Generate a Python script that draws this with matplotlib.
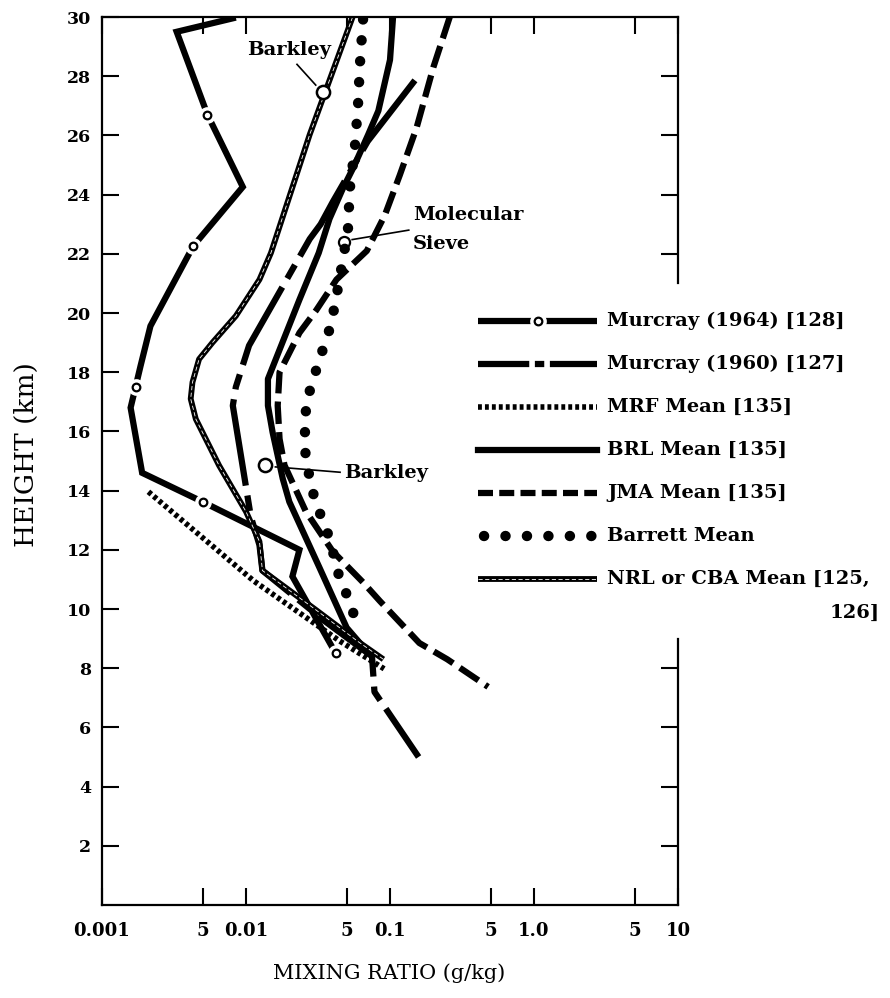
import numpy as np
import matplotlib.pyplot as plt

plt.rcParams['font.family'] = 'DejaVu Serif'

# --- data: mixing ratio (g/kg) against height (km) ---
murcray64_x = [0.0085, 0.0033, 0.0054, 0.0095, 0.0043, 0.00217, 0.00185, 0.00171,
               0.00158, 0.0019, 0.0050, 0.0235, 0.021, 0.042]
murcray64_y = [29.98, 29.5, 26.7, 24.26, 22.26, 19.56, 18.2, 17.5,
               16.8, 14.6, 13.62, 12.0, 11.1, 8.5]
murcray64_pt_x = [0.0054, 0.0043, 0.00171, 0.0050, 0.042]
murcray64_pt_y = [26.7, 22.26, 17.5, 13.62, 8.5]

murcray60_x = [0.149, 0.070, 0.040, 0.033, 0.0277, 0.0105, 0.0085, 0.0081,
               0.0108, 0.0124, 0.013, 0.035, 0.075, 0.078, 0.158]
murcray60_y = [27.86, 25.8, 23.75, 23.0, 22.5, 18.9, 17.5, 16.87,
               13.12, 12.16, 11.3, 9.6, 8.4, 7.2, 5.0]

mrf_x = [0.0021, 0.0113, 0.0447, 0.091]
mrf_y = [13.96, 10.95, 8.92, 7.98]

brl_x = [0.105, 0.100, 0.083, 0.0706, 0.0555, 0.047, 0.038, 0.032, 0.0235,
         0.0142, 0.0142, 0.0153, 0.018, 0.020, 0.0325, 0.050, 0.069]
brl_y = [30.0, 28.55, 26.83, 26.03, 24.9, 24.2, 23.18, 22.03, 20.45,
         17.77, 16.87, 15.97, 14.4, 13.62, 11.38, 9.37, 8.58]

jma_x = [0.26, 0.20, 0.153, 0.117, 0.092, 0.069, 0.0425, 0.0308, 0.0235, 0.019,
         0.0171, 0.0166, 0.0171, 0.0185, 0.026, 0.040, 0.065, 0.085, 0.16, 0.25, 0.48]
jma_y = [30.0, 28.3, 26.26, 24.66, 23.3, 22.1, 21.13, 20.1, 19.33, 18.44,
         18.0, 16.87, 15.75, 14.86, 13.3, 11.95, 10.9, 10.27, 8.85, 8.3, 7.37]

barrett_x = [0.065, 0.062, 0.060, 0.057, 0.0526, 0.051, 0.0437, 0.039, 0.0316,
             0.0262, 0.0255, 0.0262, 0.030, 0.038, 0.0447, 0.051, 0.058]
barrett_y = [29.92, 28.5, 27.06, 25.58, 24.2, 22.78, 20.9, 19.61, 18.27,
             16.98, 15.64, 14.97, 13.69, 12.4, 11.03, 10.4, 9.6]

nrl_x = [0.055, 0.0357, 0.0277, 0.0149, 0.0124, 0.0085, 0.00585, 0.00472, 0.00425,
         0.00413, 0.00448, 0.0065, 0.010, 0.0124, 0.013, 0.03, 0.06, 0.09]
nrl_y = [30.0, 27.5, 26.03, 22.03, 21.13, 19.9, 19.0, 18.44, 17.66,
         17.1, 16.42, 14.85, 13.29, 12.28, 11.3, 10.0, 8.9, 8.3]

barkley_x = [0.034, 0.0135]
barkley_y = [27.46, 14.85]
sieve_x = [0.048]
sieve_y = [22.4]

xticks = [0.001, 0.005, 0.01, 0.05, 0.1, 0.5, 1.0, 5, 10]
xticklabels = ['0.001', '5', '0.01', '5', '0.1', '5', '1.0', '5', '10']
yticks = list(range(2, 31, 2))
right_ticks = [2, 4, 6, 8, 22, 24, 26, 28]

legend_labels = ['Murcray (1964) [128]', 'Murcray (1960) [127]', 'MRF Mean [135]',
                 'BRL Mean [135]', 'JMA Mean [135]', 'Barrett Mean',
                 'NRL or CBA Mean [125,']

LW = 4.5
NOTE = 14
# axes box in pixels of the 890x998 picture
L, R, T, B = 102, 678, 17, 905
fig = plt.figure(figsize=(8.9, 9.98), dpi=100)
ax = fig.add_axes([L / 890, 1 - B / 998, (R - L) / 890, (B - T) / 998])
ax.set_xscale('log')
ax.set_xlim(0.001, 10)
ax.set_ylim(0, 30)


def murcray64_style(xs, ys, pxs, pys, tr=None):
    kw = {} if tr is None else {'transform': tr, 'clip_on': False}
    ax.plot(xs, ys, color='k', lw=LW, solid_capstyle='butt', solid_joinstyle='miter', **kw)
    ax.plot(pxs, pys, ls='none', marker='o', ms=11, mfc='white', mec='white', **kw)
    ax.plot(pxs, pys, ls='none', marker='o', ms=5.5, mfc='white', mec='k', mew=1.6, **kw)


def nrl_style(xs, ys, tr=None):
    kw = {} if tr is None else {'transform': tr, 'clip_on': False}
    ax.plot(xs, ys, color='k', lw=4.2, solid_capstyle='butt', **kw)
    ax.plot(xs, ys, color='white', lw=0.6, dashes=(5, 3), **kw)


# curves
murcray64_style(murcray64_x, murcray64_y, murcray64_pt_x, murcray64_pt_y)
ax.plot(murcray60_x, murcray60_y, color='k', lw=LW, dashes=(14, 1.6, 2.5, 1.6))
ax.plot(mrf_x, mrf_y, color='k', lw=4, dashes=(0.7, 0.55))
ax.plot(brl_x, brl_y, color='k', lw=LW)
ax.plot(jma_x, jma_y, color='k', lw=LW, dashes=(3.6, 1.3))
ax.plot(barrett_x, barrett_y, color='k', lw=7.5, dashes=(0.01, 2.0), dash_capstyle='round')
nrl_style(nrl_x, nrl_y)

# annotations
ax.plot(barkley_x, barkley_y, ls='none', marker='o', ms=9.5, mfc='white', mec='k', mew=1.8)
ax.plot(sieve_x, sieve_y, ls='none', marker='o', ms=8, mfc='none', mec='k', mew=1.6)
ax.text(0.0198, 28.9, 'Barkley', fontsize=NOTE, fontweight='bold', ha='center', va='center')
ax.plot([0.0226, 0.0305], [28.4, 27.7], color='k', lw=1.2)
ax.text(0.048, 14.6, 'Barkley', fontsize=NOTE, fontweight='bold', ha='left', va='center')
ax.plot([0.0160, 0.045], [14.8, 14.62], color='k', lw=1.2)
ax.text(0.144, 23.3, 'Molecular', fontsize=NOTE, fontweight='bold', ha='left', va='center')
ax.text(0.144, 22.33, 'Sieve', fontsize=NOTE, fontweight='bold', ha='left', va='center')
ax.plot([0.0546, 0.135], [22.48, 22.8], color='k', lw=1.2)

# axes frame and ticks; the right edge is broken where the key sits
for side in ['left', 'bottom', 'top']:
    ax.spines[side].set_linewidth(1.6)
ax.spines['right'].set_visible(False)
ytr = ax.get_yaxis_transform()
ax.plot([1, 1], [0, 9.0], color='k', lw=1.6, transform=ytr, clip_on=False)
ax.plot([1, 1], [21.0, 30], color='k', lw=1.6, transform=ytr, clip_on=False)

ax.set_xticks(xticks)
ax.set_xticklabels(xticklabels)
ax.xaxis.set_minor_locator(plt.NullLocator())
ax.set_yticks(yticks)
ax.tick_params(axis='x', direction='in', length=12, width=1.5, top=True, pad=12, labelsize=13)
ax.tick_params(axis='y', direction='in', length=12, width=1.5, right=False, pad=8, labelsize=12.5)
for lab in ax.get_xticklabels() + ax.get_yticklabels():
    lab.set_fontweight('bold')

ax2 = ax.twinx()
ax2.set_ylim(0, 30)
ax2.set_yticks(right_ticks)
ax2.tick_params(axis='y', direction='in', length=12, width=1.5, labelright=False)
for s in ax2.spines.values():
    s.set_visible(False)

fig.text(389 / 890, 1 - 973 / 998, 'MIXING RATIO (g/kg)', fontsize=15, ha='center', va='center')
fig.text(26 / 890, 1 - 455 / 998, 'HEIGHT (km)', fontsize=19, ha='center', va='center',
         rotation=90)

# key drawn by hand to the right of the curves (pixel rows of the picture)
atr = ax.transAxes
lx0, lx1 = (478 - L) / (R - L), (597 - L) / (R - L)
tx = (607 - L) / (R - L)
rows = [(B - (321 + 43 * i)) / (B - T) for i in range(len(legend_labels))]
murcray64_style([lx0, lx1], [rows[0]] * 2, [(lx0 + lx1) / 2], [rows[0]], tr=atr)
ax.plot([lx0, lx1], [rows[1]] * 2, color='k', lw=LW, dashes=(8.2, 0.9, 1.5, 0.9),
        transform=atr, clip_on=False)
ax.plot([lx0, lx1], [rows[2]] * 2, color='k', lw=4, dashes=(0.7, 0.55),
        transform=atr, clip_on=False)
ax.plot([lx0, lx1], [rows[3]] * 2, color='k', lw=LW, transform=atr, clip_on=False)
ax.plot([lx0, lx1], [rows[4]] * 2, color='k', lw=LW, dashes=(2.4, 1.0),
        transform=atr, clip_on=False)
ax.plot([lx0 + 0.01, lx1], [rows[5]] * 2, color='k', lw=7.5, dashes=(0.01, 2.05),
        dash_capstyle='round', transform=atr, clip_on=False)
nrl_style([lx0, lx1], [rows[6]] * 2, tr=atr)
for lab, yy in zip(legend_labels, rows):
    ax.text(tx, yy, lab, transform=atr, fontsize=14, fontweight='bold', va='center', ha='left')
ax.text(880 / 890, 1 - 613 / 998, '126]', transform=fig.transFigure, fontsize=14,
        fontweight='bold', va='center', ha='right')

fig.savefig('out.png', dpi=100)
